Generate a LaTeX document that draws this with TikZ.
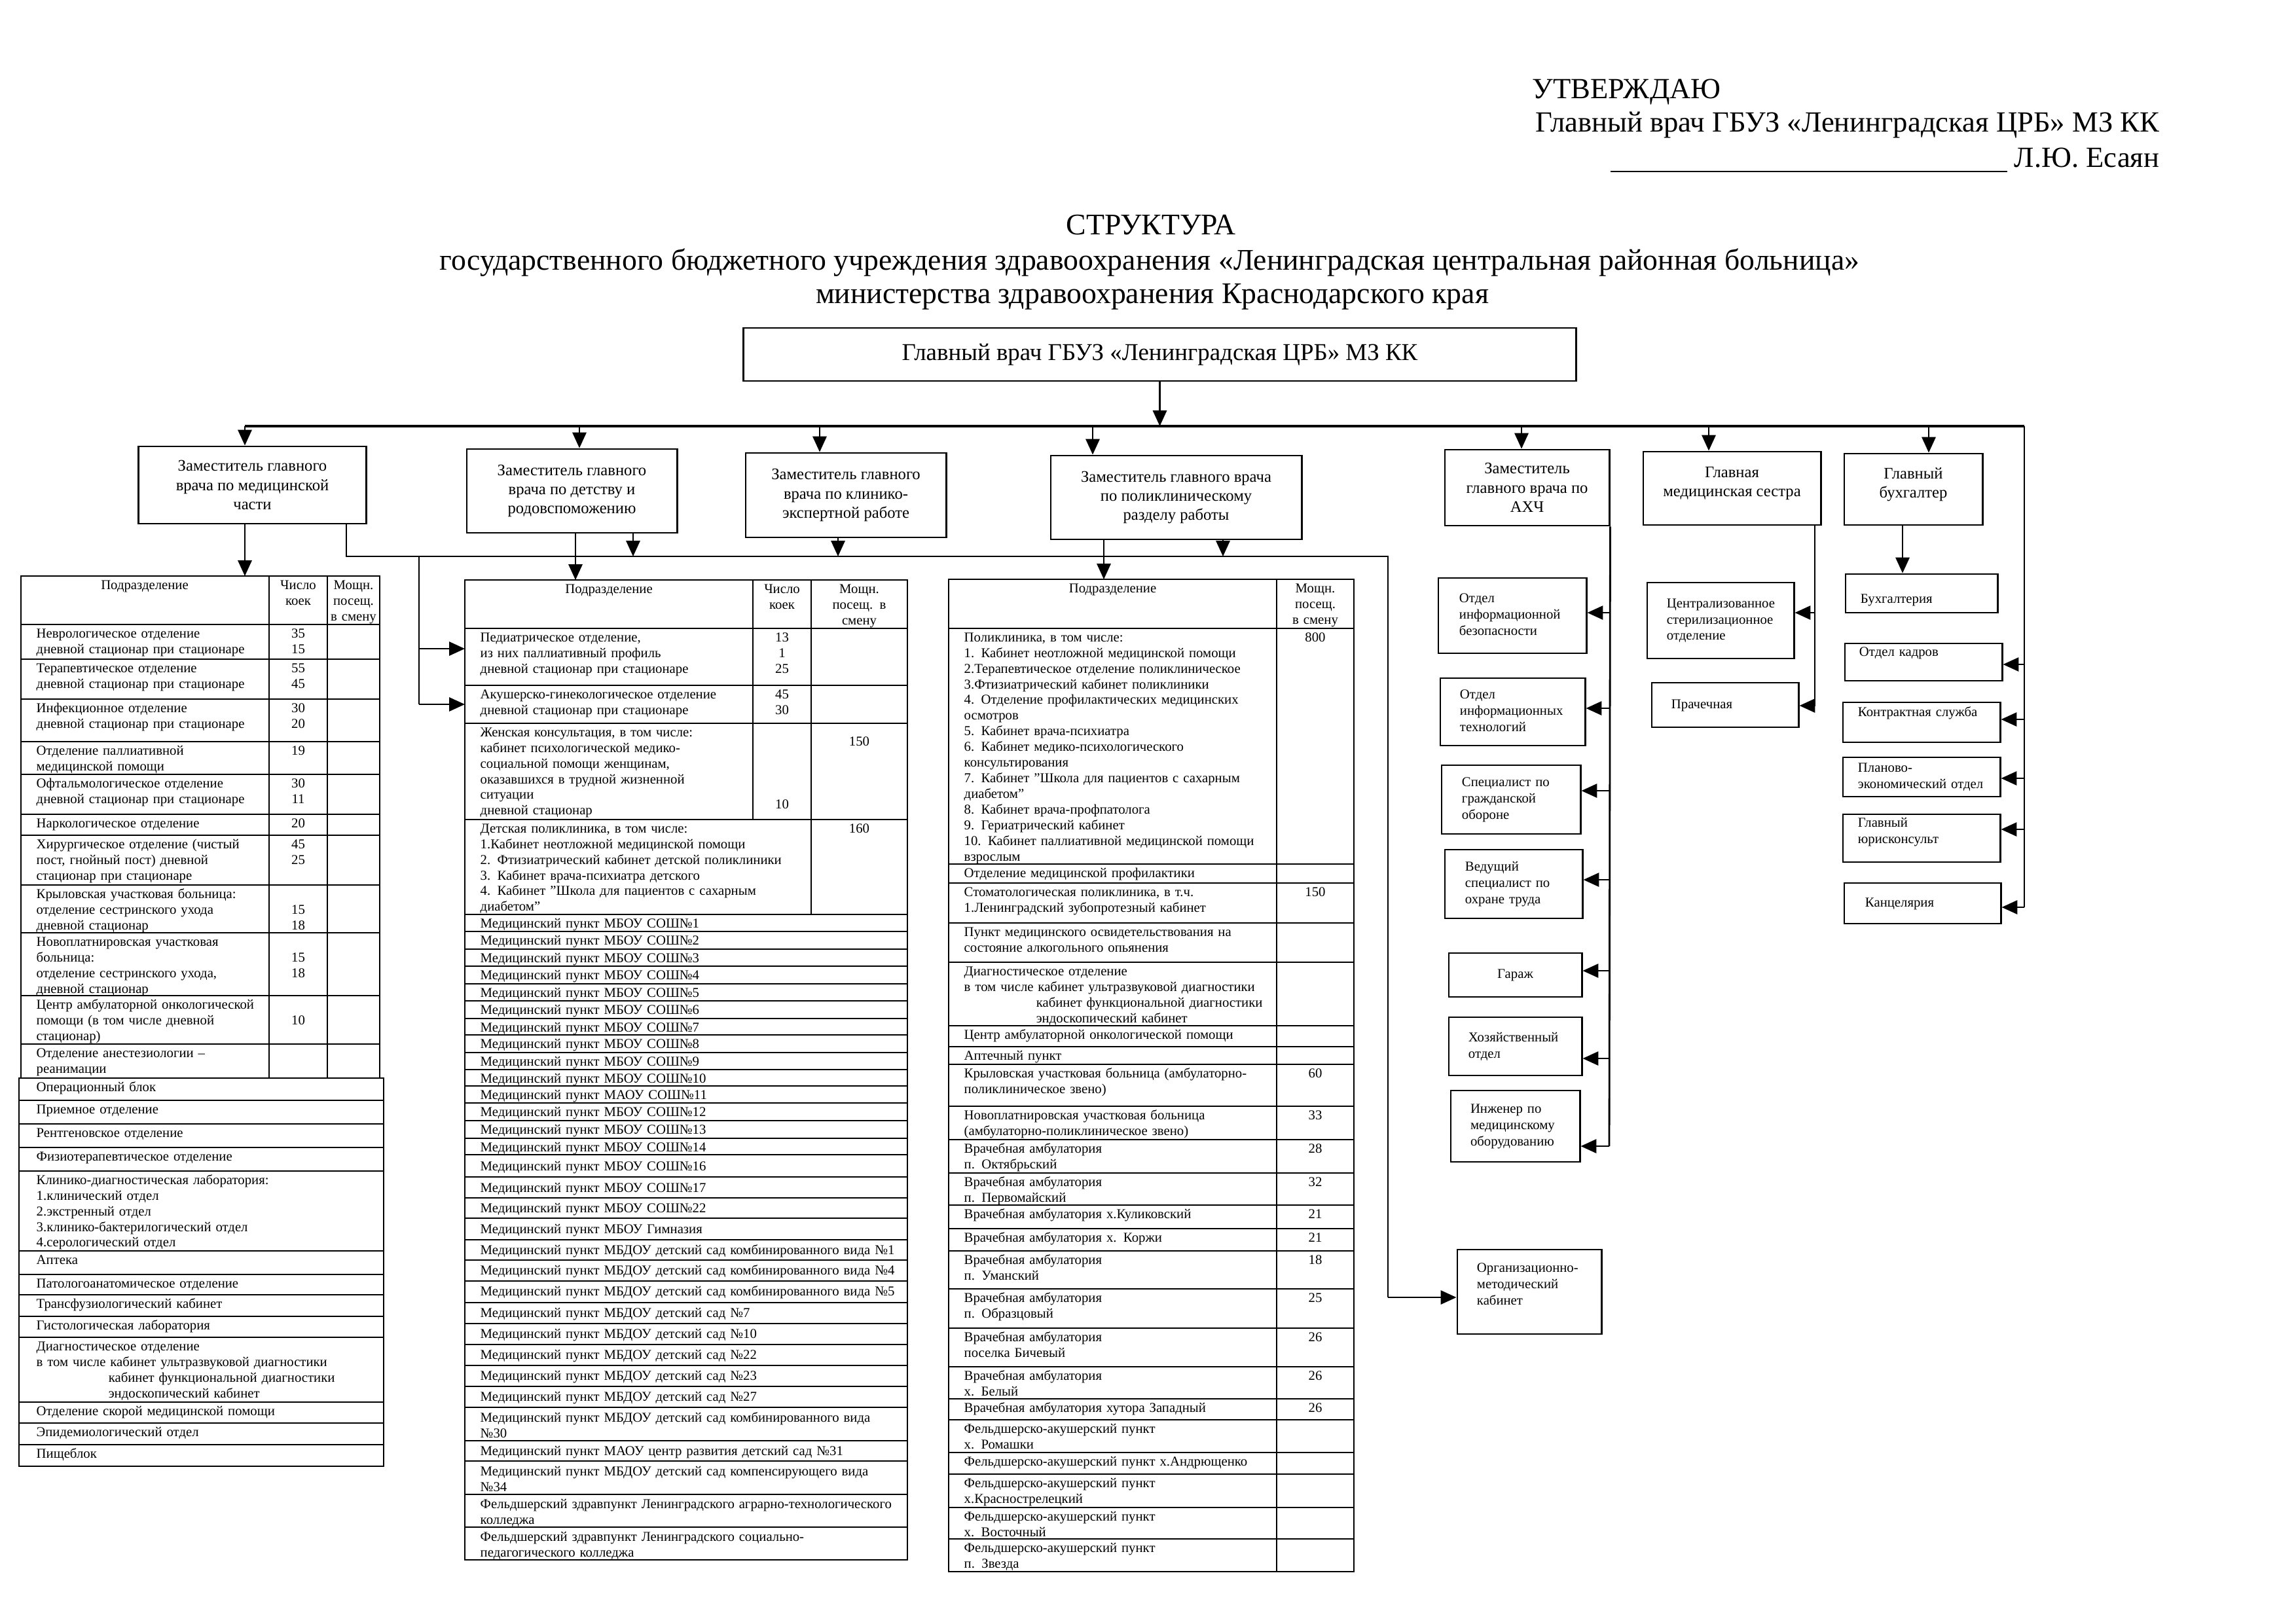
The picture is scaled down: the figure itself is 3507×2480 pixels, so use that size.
\documentclass[tikz,border=0pt]{standalone}
\usepackage{fontspec}
\setmainfont{Liberation Serif}
\usetikzlibrary{arrows.meta}
\newcommand\tabfnt{\fontsize{5.9}{6.8}\selectfont}
\newcommand\ttlfnt{\fontsize{13}{15}\selectfont}
\newcommand\hdrfnt{\fontsize{12.7}{15}\selectfont}
\newcommand\lbl[1]{\begin{tabular}{@{}l@{}}#1\end{tabular}}
\newcommand\shiftlbl[2]{\raisebox{#1}[\height][\depth]{\begin{tabular}{@{}l@{}}#2\end{tabular}}}
\newcommand\shiftctr[2]{\raisebox{#1}[\height][\depth]{\begin{tabular}{@{}c@{}}#2\end{tabular}}}
\begin{document}
\begin{tikzpicture}[x=0.01cm,y=-0.01cm,
 box/.style={draw,line width=0.8pt,inner sep=0pt,align=center},
 dbox/.style={box,font=\fontsize{7}{8.3}\selectfont},
 rbox/.style={draw,line width=0.8pt,inner sep=0pt,align=left,font=\fontsize{5.9}{7.1}\selectfont},
 arr/.style={line width=0.8pt,-{Triangle[length=6.8pt,width=6pt]}},
 conn/.style={line width=0.8pt},
 bus/.style={line width=1pt},
 grid/.style={line width=0.6pt},
 tx/.style={anchor=north west,inner sep=0pt,yshift=-0.8pt,text width=7cm,align=left,font=\tabfnt},
 nm/.style={anchor=north,inner sep=0pt,yshift=-0.8pt,text width=2cm,align=center,font=\tabfnt}]
\fill[white] (0,0) rectangle (3507,2480);
\useasboundingbox (0,0) rectangle (3507,2480);

% ---------- header ----------
\node[anchor=base west,inner sep=0pt,font=\hdrfnt] (appr1) at (2340,150) {УТВЕРЖДАЮ};
\node[anchor=base east,inner sep=0pt,font=\hdrfnt] (appr2) at (3299,201) {Главный врач ГБУЗ «Ленинградская ЦРБ» МЗ КК};
\node[anchor=base east,inner sep=0pt,font=\hdrfnt] (appr3) at (3299,255) {Л.Ю. Есаян};
\draw[line width=0.6pt] (2460,262) -- (3066,262);

\node[anchor=base,inner sep=0pt,font=\ttlfnt] (ttl1) at (1758,358) {СТРУКТУРА};
\node[anchor=base,inner sep=0pt,font=\ttlfnt] (ttl2) at (1756,412) {государственного бюджетного учреждения здравоохранения «Ленинградская центральная районная больница»};
\node[anchor=base,inner sep=0pt,font=\ttlfnt] (ttl3) at (1760,463) {министерства здравоохранения Краснодарского края};

% ---------- chief and deputies ----------
\node[box,minimum width=12.71cm,minimum height=0.81cm,font=\fontsize{10.5}{12}\selectfont] (chief) at (1771.5,541.5) {Главный врач ГБУЗ «Ленинградская ЦРБ» МЗ КК};

\node[dbox,minimum width=3.47cm,minimum height=1.18cm] (d1) at (385.5,741) {Заместитель главного\\врача по медицинской\\части};
\node[dbox,minimum width=3.21cm,minimum height=1.28cm] (d2) at (873.5,750) {Заместитель главного\\врача по детству и\\родовспоможению};
\node[dbox,minimum width=3.06cm,minimum height=1.29cm] (d3) at (1292,756.5) {Заместитель главного\\врача по клинико-\\экспертной работе};
\node[dbox,minimum width=3.83cm,minimum height=1.28cm] (d4) at (1796.5,760) {Заместитель главного врача\\по поликлиническому\\разделу работы};
\node[dbox,minimum width=2.51cm,minimum height=1.16cm] (d5) at (2332.5,745) {Заместитель\\главного врача по\\АХЧ};
\node[dbox,minimum width=2.71cm,minimum height=1.12cm] (d6) at (2645.5,746) {\shiftctr{2.3pt}{Главная\\медицинская сестра}};
\node[dbox,minimum width=2.11cm,minimum height=1.09cm] (d7) at (2922.5,747.5) {\shiftctr{2pt}{Главный\\бухгалтер}};

% ---------- right-hand boxes ----------
\node[rbox,minimum width=2.26cm,minimum height=1.15cm,text width=1.62cm] (r1) at (2310,940.5) {\lbl{Отдел\\информационной\\безопасности}};
\node[rbox,minimum width=2.21cm,minimum height=1.03cm,text width=1.61cm] (r2) at (2310.5,1087.5) {\lbl{Отдел\\информационных\\технологий}};
\node[rbox,minimum width=2.12cm,minimum height=1.05cm,text width=1.50cm] (r3) at (2308,1221.5) {\lbl{Специалист по\\гражданской\\обороне}};
\node[rbox,minimum width=2.10cm,minimum height=1.05cm,text width=1.48cm] (r4) at (2312,1350.5) {\lbl{Ведущий\\специалист по\\охране труда}};
\node[rbox,minimum width=2.03cm,minimum height=0.67cm,align=center] (r5) at (2314.5,1489.5) {Гараж};
\node[rbox,minimum width=2.03cm,minimum height=0.89cm,text width=1.43cm] (r6) at (2314.5,1598.5) {\lbl{Хозяйственный\\отдел}};
\node[rbox,minimum width=1.97cm,minimum height=1.09cm,text width=1.37cm] (r7) at (2314.5,1720.5) {\lbl{Инженер по\\медицинскому\\оборудованию}};
\node[rbox,minimum width=2.20cm,minimum height=1.29cm,text width=1.60cm] (om) at (2336,1973.5) {\shiftlbl{2.8pt}{Организационно-\\методический\\кабинет}};

\node[rbox,minimum width=2.24cm,minimum height=1.16cm,text width=1.64cm] (s1) at (2628,948) {\lbl{Централизованное\\стерилизационное\\отделение}};
\node[rbox,minimum width=2.24cm,minimum height=0.68cm,text width=1.64cm] (s2) at (2635,1077) {\lbl{Прачечная}};

\node[rbox,minimum width=2.32cm,minimum height=0.59cm,text width=1.86cm] (b1) at (2935,906.5) {\shiftlbl{-2.8pt}{Бухгалтерия}};
\node[rbox,minimum width=2.40cm,minimum height=0.57cm,text width=1.96cm] (b2) at (2938,1011.5) {\shiftlbl{4pt}{Отдел кадров}};
\node[rbox,minimum width=2.40cm,minimum height=0.61cm,text width=1.94cm] (b3) at (2935,1103.5) {\shiftlbl{4pt}{Контрактная служба}};
\node[rbox,minimum width=2.40cm,minimum height=0.60cm,text width=1.94cm] (b4) at (2935,1187) {\lbl{Планово-\\экономический отдел}};
\node[rbox,minimum width=2.40cm,minimum height=0.73cm,text width=1.94cm] (b5) at (2935,1280.5) {\shiftlbl{2.8pt}{Главный\\юрисконсульт}};
\node[rbox,minimum width=2.39cm,minimum height=0.62cm,text width=1.75cm] (b6) at (2936.5,1380) {\lbl{Канцелярия}};

% ---------- main bus ----------
\coordinate (busL) at (374,651);
\coordinate (busR) at (3092,651);
\draw[bus] (busL) -- (busR);
\draw[arr] (chief.south) -- (chief.south |- busL);
\draw[arr] (busL) -- (busL |- d1.north);
\coordinate (m2) at (885,651);
\coordinate (m3) at (1252,651);
\coordinate (m4) at (1669,651);
\coordinate (m5) at (2324,651);
\coordinate (m6) at (2610,651);
\coordinate (m7) at (2946,651);
\draw[arr] (m2) -- (m2 |- d2.north);
\draw[arr] (m3) -- (m3 |- d3.north);
\draw[arr] (m4) -- (m4 |- d4.north);
\draw[arr] (m5) -- (m5 |- d5.north);
\draw[arr] (m6) -- (m6 |- d6.north);
\draw[arr] (m7) -- (m7 |- d7.north);

% right vertical to accounting boxes
\coordinate (k2) at (3092,1015);
\coordinate (k3) at (3092,1099);
\coordinate (k4) at (3092,1189);
\coordinate (k5) at (3092,1267);
\coordinate (k6) at (3092,1386);
\draw[conn] (busR) -- (k6);
\draw[arr] (k2) -- (k2 -| b2.east);
\draw[arr] (k3) -- (k3 -| b3.east);
\draw[arr] (k4) -- (k4 -| b4.east);
\draw[arr] (k5) -- (k5 -| b5.east);
\draw[arr] (k6) -- (k6 -| b6.east);
\coordinate (g7) at (2906,0);
\draw[arr] (g7 |- d7.south) -- (g7 |- b1.north);

% AXЧ column
\coordinate (a1) at (2458,936);
\coordinate (a2) at (2458,1082);
\coordinate (a3) at (2458,1208);
\coordinate (a4) at (2458,1344);
\coordinate (a5) at (2458,1483);
\coordinate (a6) at (2458,1617);
\coordinate (a7) at (2458,1751);
\draw[conn] (d5.south east) -- (a7);
\draw[arr] (a1) -- (a1 -| r1.east);
\draw[arr] (a2) -- (a2 -| r2.east);
\draw[arr] (a3) -- (a3 -| r3.east);
\draw[arr] (a4) -- (a4 -| r4.east);
\draw[arr] (a5) -- (a5 -| r5.east);
\draw[arr] (a6) -- (a6 -| r6.east);
\draw[arr] (a7) -- (a7 -| r7.east);

% chief nurse column
\coordinate (n1) at (2772,936);
\coordinate (n2) at (2772,1078);
\draw[conn] (n1 |- d6.south) -- (n2);
\draw[arr] (n1) -- (n1 -| s1.east);
\draw[arr] (n2) -- (n2 -| s2.east);

% ---------- second bus ----------
\coordinate (q0) at (529,850);
\coordinate (q9) at (2120,850);
\coordinate (qo) at (2120,1982);
\draw[conn] (q0 |- d1.south) -- (q0) -- (q9) -- (qo);
\draw[arr] (qo) -- (qo -| om.west);
\coordinate (q2) at (967,850);
\coordinate (q3) at (1280,850);
\coordinate (q4) at (1868,850);
\draw[arr] (q2 |- d2.south) -- (q2);
\draw[arr] (q3 |- d3.south) -- (q3);
\draw[arr] (q4 |- d4.south) -- (q4);
\coordinate (t1N) at (374,880);
\coordinate (t2N) at (879,886);
\coordinate (t3N) at (1686,885);
\draw[arr] (t1N |- d1.south) -- (t1N);
\draw[arr] (t2N |- d2.south) -- (t2N);
\draw[arr] (t3N |- d4.south) -- (t3N);
\coordinate (q1) at (640,850);
\coordinate (p1) at (640,991);
\coordinate (p2) at (640,1076);
\coordinate (t2W) at (710,886);
\draw[conn] (q1) -- (p2);
\draw[arr] (p1) -- (p1 -| t2W);
\draw[arr] (p2) -- (p2 -| t2W);

% ---------- table 1 ----------
\draw[grid] (32,880) rectangle (580,1647);
\foreach \y in {954,1007,1068,1133,1183,1244,1276,1352,1425,1521,1595} \draw[grid] (32,\y) -- (580,\y);
\draw[grid] (411,880) -- (411,1647);
\draw[grid] (500,880) -- (500,1647);
\draw[grid] (29,1647) rectangle (586,2240);
\foreach \y in {1681,1717,1753,1789,1911,1947,1978,2011,2043,2142,2174,2207} \draw[grid] (29,\y) -- (586,\y);

\node[nm,text width=3.5cm] (t1h1) at (221,880) {\strut Подразделение};
\node[nm] (t1h2) at (455.5,880) {\strut Число\\коек};
\node[nm] (t1h3) at (540,880) {\strut Мощн.\\посещ.\\в смену};

\node[tx] (t1r1) at (55,954) {\strut Неврологическое отделение\\дневной стационар при стационаре};
\node[tx] (t1r2) at (55,1007) {\strut Терапевтическое отделение\\дневной стационар при стационаре};
\node[tx] (t1r3) at (55,1068) {\strut Инфекционное отделение\\дневной стационар при стационаре};
\node[tx] (t1r4) at (55,1133) {\strut Отделение паллиативной\\медицинской помощи};
\node[tx] (t1r5) at (55,1183) {\strut Офтальмологическое отделение\\дневной стационар при стационаре};
\node[tx] (t1r6) at (55,1244) {\strut Наркологическое отделение};
\node[tx] (t1r7) at (55,1276) {\strut Хирургическое отделение (чистый\\пост, гнойный пост) дневной\\стационар при стационаре};
\node[tx] (t1r8) at (55,1352) {\strut Крыловская участковая больница:\\отделение сестринского ухода\\дневной стационар};
\node[tx] (t1r9) at (55,1425) {\strut Новоплатнировская участковая\\больница:\\отделение сестринского ухода,\\дневной стационар};
\node[tx] (t1r10) at (55,1521) {\strut Центр амбулаторной онкологической\\помощи (в том числе дневной\\стационар)};
\node[tx] (t1r11) at (55,1595) {\strut Отделение анестезиологии –\\реанимации};
\node[tx] (t1r12) at (55,1647) {\strut Операционный блок};
\node[tx] (t1r13) at (55,1681) {\strut Приемное отделение};
\node[tx] (t1r14) at (55,1717) {\strut Рентгеновское отделение};
\node[tx] (t1r15) at (55,1753) {\strut Физиотерапевтическое отделение};
\node[tx] (t1r16) at (55,1789) {\strut Клинико-диагностическая лаборатория:\\1.клинический отдел\\2.экстренный отдел\\3.клинико-бактерилогический отдел\\4.серологический отдел};
\node[tx] (t1r17) at (55,1911) {\strut Аптека};
\node[tx] (t1r18) at (55,1947) {\strut Патологоанатомическое отделение};
\node[tx] (t1r19) at (55,1978) {\strut Трансфузиологический кабинет};
\node[tx] (t1r20) at (55,2011) {\strut Гистологическая лаборатория};
\node[tx] (t1r21) at (55,2043) {\strut Диагностическое отделение\\в том числе кабинет ультразвуковой диагностики\\\hspace*{1.1cm}кабинет функциональной диагностики\\\hspace*{1.1cm}эндоскопический кабинет};
\node[tx] (t1r22) at (55,2142) {\strut Отделение скорой медицинской помощи};
\node[tx] (t1r23) at (55,2174) {\strut Эпидемиологический отдел};
\node[tx] (t1r24) at (55,2207) {\strut Пищеблок};

\node[nm] (t1n1) at (455.5,954) {\strut 35\\15};
\node[nm] (t1n2) at (455.5,1007) {\strut 55\\45};
\node[nm] (t1n3) at (455.5,1068) {\strut 30\\20};
\node[nm] (t1n4) at (455.5,1133) {\strut 19};
\node[nm] (t1n5) at (455.5,1183) {\strut 30\\11};
\node[nm] (t1n6) at (455.5,1244) {\strut 20};
\node[nm] (t1n7) at (455.5,1276) {\strut 45\\25};
\node[nm] (t1n8) at (455.5,1352) {\strut\\15\\18};
\node[nm] (t1n9) at (455.5,1425) {\strut\\15\\18};
\node[nm] (t1n10) at (455.5,1521) {\strut\\10};

% ---------- table 2 ----------
\draw[grid] (710,886) rectangle (1386,2383);
\foreach \y in {960,1047,1105,1252,1397,1423,1450,1476,1503,1529,1556,1581,1608,1634,1659,1685,1712,1739,1764,1798,1830,1861,1894,1925,1957,1990,2022,2054,2086,2118,2150,2201,2232,2283,2333} \draw[grid] (710,\y) -- (1386,\y);
\draw[grid] (1150,886) -- (1150,1252);
\draw[grid] (1239,886) -- (1239,1397);

\node[nm] (t2h1) at (930,886) {\strut Подразделение};
\node[nm] (t2h2) at (1194.5,886) {\strut Число\\коек};
\node[nm] (t2h3) at (1312.5,886) {\strut Мощн.\\посещ. в\\смену};

\node[tx] (t2r1) at (733,960) {\strut Педиатрическое отделение,\\из них паллиативный профиль\\дневной стационар при стационаре};
\node[tx] (t2r2) at (733,1047) {\strut Акушерско-гинекологическое отделение\\дневной стационар при стационаре};
\node[tx] (t2r3) at (733,1105) {\strut Женская консультация, в том числе:\\кабинет психологической медико-\\социальной помощи женщинам,\\оказавшихся в трудной жизненной\\ситуации\\дневной стационар};
\node[tx] (t2r4) at (733,1252) {\strut Детская поликлиника, в том числе:\\1.Кабинет неотложной медицинской помощи\\2. Фтизиатрический кабинет детской поликлиники\\3. Кабинет врача-психиатра детского\\4. Кабинет "Школа для пациентов с сахарным\\диабетом"};
\node[tx] (t2r5) at (733,1397) {\strut Медицинский пункт МБОУ СОШ№1};
\node[tx] (t2r6) at (733,1423) {\strut Медицинский пункт МБОУ СОШ№2};
\node[tx] (t2r7) at (733,1450) {\strut Медицинский пункт МБОУ СОШ№3};
\node[tx] (t2r8) at (733,1476) {\strut Медицинский пункт МБОУ СОШ№4};
\node[tx] (t2r9) at (733,1503) {\strut Медицинский пункт МБОУ СОШ№5};
\node[tx] (t2r10) at (733,1529) {\strut Медицинский пункт МБОУ СОШ№6};
\node[tx] (t2r11) at (733,1556) {\strut Медицинский пункт МБОУ СОШ№7};
\node[tx] (t2r12) at (733,1581) {\strut Медицинский пункт МБОУ СОШ№8};
\node[tx] (t2r13) at (733,1608) {\strut Медицинский пункт МБОУ СОШ№9};
\node[tx] (t2r14) at (733,1634) {\strut Медицинский пункт МБОУ СОШ№10};
\node[tx] (t2r15) at (733,1659) {\strut Медицинский пункт МАОУ СОШ№11};
\node[tx] (t2r16) at (733,1685) {\strut Медицинский пункт МБОУ СОШ№12};
\node[tx] (t2r17) at (733,1712) {\strut Медицинский пункт МБОУ СОШ№13};
\node[tx] (t2r18) at (733,1739) {\strut Медицинский пункт МБОУ СОШ№14};
\node[tx] (t2r19) at (733,1768) {\strut Медицинский пункт МБОУ СОШ№16};
\node[tx] (t2r20) at (733,1801) {\strut Медицинский пункт МБОУ СОШ№17};
\node[tx] (t2r21) at (733,1832) {\strut Медицинский пункт МБОУ СОШ№22};
\node[tx] (t2r22) at (733,1864) {\strut Медицинский пункт МБОУ Гимназия};
\node[tx] (t2r23) at (733,1896) {\strut Медицинский пункт МБДОУ детский сад комбинированного вида №1};
\node[tx] (t2r24) at (733,1927) {\strut Медицинский пункт МБДОУ детский сад комбинированного вида №4};
\node[tx] (t2r25) at (733,1959) {\strut Медицинский пункт МБДОУ детский сад комбинированного вида №5};
\node[tx] (t2r26) at (733,1992) {\strut Медицинский пункт МБДОУ детский сад №7};
\node[tx] (t2r27) at (733,2024) {\strut Медицинский пункт МБДОУ детский сад №10};
\node[tx] (t2r28) at (733,2056) {\strut Медицинский пункт МБДОУ детский сад №22};
\node[tx] (t2r29) at (733,2088) {\strut Медицинский пункт МБДОУ детский сад №23};
\node[tx] (t2r30) at (733,2120) {\strut Медицинский пункт МБДОУ детский сад №27};
\node[tx] (t2r31) at (733,2152) {\strut Медицинский пункт МБДОУ детский сад комбинированного вида\\№30};
\node[tx] (t2r32) at (733,2203) {\strut Медицинский пункт МАОУ центр развития детский сад №31};
\node[tx] (t2r33) at (733,2234) {\strut Медицинский пункт МБДОУ детский сад компенсирующего вида\\№34};
\node[tx] (t2r34) at (733,2284) {\strut Фельдшерский здравпункт Ленинградского аграрно-технологического\\колледжа};
\node[tx] (t2r35) at (733,2334) {\strut Фельдшерский здравпункт Ленинградского социально-\\педагогического колледжа};

\node[nm] (t2n1) at (1194.5,960) {\strut 13\\1\\25};
\node[nm] (t2n2) at (1194.5,1047) {\strut 45\\30};
\node[nm] (t2n3) at (1312.5,1119) {\strut 150};
\node[nm] (t2n4) at (1194.5,1215) {\strut 10};
\node[nm] (t2n5) at (1312.5,1252) {\strut 160};

% ---------- table 3 ----------
\draw[grid] (1449,885) rectangle (2068,2401);
\foreach \y in {960,1320,1349,1410,1470,1567,1599,1626,1690,1741,1792,1841,1877,1911,1969,2029,2088,2137,2169,2219,2252,2303,2351} \draw[grid] (1449,\y) -- (2068,\y);
\draw[grid] (1950,885) -- (1950,2401);

\node[nm] (t3h1) at (1699.5,885) {\strut Подразделение};
\node[nm] (t3h2) at (2009,885) {\strut Мощн.\\посещ.\\в смену};

\node[tx] (t3r1) at (1472,960) {\strut Поликлиника, в том числе:\\1. Кабинет неотложной медицинской помощи\\2.Терапевтическое отделение поликлиническое\\3.Фтизиатрический кабинет поликлиники\\4. Отделение профилактических медицинских\\осмотров\\5. Кабинет врача-психиатра\\6. Кабинет медико-психологического\\консультирования\\7. Кабинет "Школа для пациентов с сахарным\\диабетом"\\8. Кабинет врача-профпатолога\\9. Гериатрический кабинет\\10. Кабинет паллиативной медицинской помощи\\взрослым};
\node[tx] (t3r2) at (1472,1320) {\strut Отделение медицинской профилактики};
\node[tx] (t3r3) at (1472,1349) {\strut Стоматологическая поликлиника, в т.ч.\\1.Ленинградский зубопротезный кабинет};
\node[tx] (t3r4) at (1472,1410) {\strut Пункт медицинского освидетельствования на\\состояние алкогольного опьянения};
\node[tx] (t3r5) at (1472,1470) {\strut Диагностическое отделение\\в том числе кабинет ультразвуковой диагностики\\\hspace*{1.1cm}кабинет функциональной диагностики\\\hspace*{1.1cm}эндоскопический кабинет};
\node[tx] (t3r6) at (1472,1567) {\strut Центр амбулаторной онкологической помощи};
\node[tx] (t3r7) at (1472,1599) {\strut Аптечный пункт};
\node[tx] (t3r8) at (1472,1626) {\strut Крыловская участковая больница (амбулаторно-\\поликлиническое звено)};
\node[tx] (t3r9) at (1472,1690) {\strut Новоплатнировская участковая больница\\(амбулаторно-поликлиническое звено)};
\node[tx] (t3r10) at (1472,1741) {\strut Врачебная амбулатория\\п. Октябрьский};
\node[tx] (t3r11) at (1472,1792) {\strut Врачебная амбулатория\\п. Первомайский};
\node[tx] (t3r12) at (1472,1841) {\strut Врачебная амбулатория х.Куликовский};
\node[tx] (t3r13) at (1472,1877) {\strut Врачебная амбулатория х. Коржи};
\node[tx] (t3r14) at (1472,1911) {\strut Врачебная амбулатория\\п. Уманский};
\node[tx] (t3r15) at (1472,1969) {\strut Врачебная амбулатория\\п. Образцовый};
\node[tx] (t3r16) at (1472,2029) {\strut Врачебная амбулатория\\поселка Бичевый};
\node[tx] (t3r17) at (1472,2088) {\strut Врачебная амбулатория\\х. Белый};
\node[tx] (t3r18) at (1472,2137) {\strut Врачебная амбулатория хутора Западный};
\node[tx] (t3r19) at (1472,2169) {\strut Фельдшерско-акушерский пункт\\х. Ромашки};
\node[tx] (t3r20) at (1472,2219) {\strut Фельдшерско-акушерский пункт х.Андрющенко};
\node[tx] (t3r21) at (1472,2252) {\strut Фельдшерско-акушерский пункт\\х.Краснострелецкий};
\node[tx] (t3r22) at (1472,2303) {\strut Фельдшерско-акушерский пункт\\х. Восточный};
\node[tx] (t3r23) at (1472,2351) {\strut Фельдшерско-акушерский пункт\\п. Звезда};

\node[nm] (t3n1) at (2009,960) {\strut 800};
\node[nm] (t3n3) at (2009,1349) {\strut 150};
\node[nm] (t3n8) at (2009,1626) {\strut 60};
\node[nm] (t3n9) at (2009,1690) {\strut 33};
\node[nm] (t3n10) at (2009,1741) {\strut 28};
\node[nm] (t3n11) at (2009,1792) {\strut 32};
\node[nm] (t3n12) at (2009,1841) {\strut 21};
\node[nm] (t3n13) at (2009,1877) {\strut 21};
\node[nm] (t3n14) at (2009,1911) {\strut 18};
\node[nm] (t3n15) at (2009,1969) {\strut 25};
\node[nm] (t3n16) at (2009,2029) {\strut 26};
\node[nm] (t3n17) at (2009,2088) {\strut 26};
\node[nm] (t3n18) at (2009,2137) {\strut 26};
\end{tikzpicture}
\end{document}
